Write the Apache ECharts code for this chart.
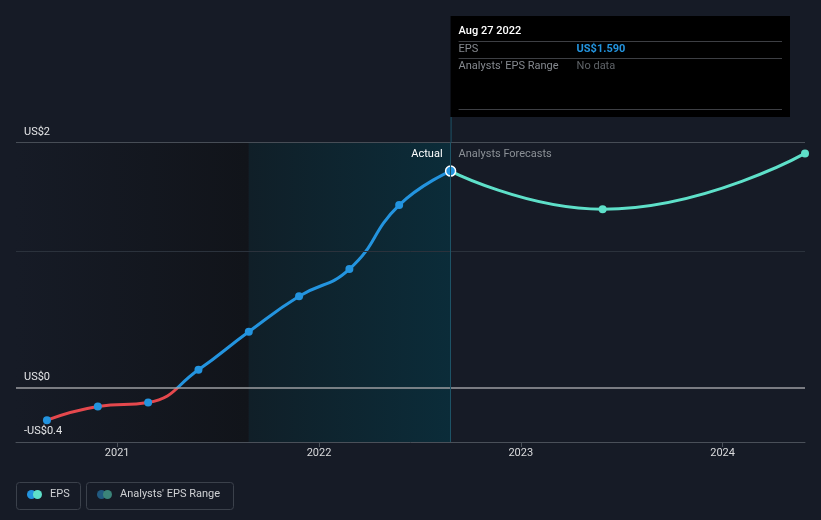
<!DOCTYPE html>
<html><head><meta charset="utf-8">
<script src="https://cdn.jsdelivr.net/npm/echarts@6/dist/echarts.min.js"></script>
<style>html,body{margin:0;padding:0;background:#161b26;}#c{width:821px;height:520px;}</style>
</head><body><div id="c"></div>
<script>
// ---- data ----
const actualDates = ['2020-08-27','2020-11-27','2021-02-26','2021-05-28','2021-08-27','2021-11-26','2022-02-25','2022-05-26','2022-08-27'];
const actualEps = [-0.24, -0.14, -0.11, 0.13, 0.41, 0.67, 0.87, 1.34, 1.59];
const forecastDates = ['2022-08-27','2023-05-29','2024-05-29'];
const forecastEps = [1.59, 1.31, 1.72];
const yearTickDates = ['2021-01-01','2022-01-01','2023-01-01','2024-01-01'];
const yearTickLabels = ['2021','2022','2023','2024'];
const yTickValues = [-0.4, 0, 1.8];
const yTickLabels = ['-US$0.4', 'US$0', 'US$2'];
const gridValues = [1.8, 1];
const axisStartDate = '2020-07-02';
const tooltipDate = 'Aug 27 2022';
const tooltipEps = 'US$1.590';

// ---- helpers ----
const t = d => Date.parse(d + 'T00:00:00Z');
const BLUE = '#2394df', RED = '#e5484d', TEAL = '#5ee0c9';
const FONT = 'Roboto, "Noto Sans", sans-serif';

const lastActualT = t(actualDates[actualDates.length - 1]);
const oneYearBefore = new Date(lastActualT); oneYearBefore.setUTCFullYear(oneYearBefore.getUTCFullYear() - 1);
const actualData = actualDates.map((d, i) => {
  const item = { value: [t(d), actualEps[i]] };
  if (i === actualDates.length - 1) {
    item.symbolSize = 10;
    item.itemStyle = { color: BLUE, borderColor: '#ffffff', borderWidth: 1.5 };
  }
  return item;
});
const forecastData = forecastDates.map((d, i) => [t(d), forecastEps[i]]);
const tickTs = yearTickDates.map(t);

const chart = echarts.init(document.getElementById('c'), null, { renderer: 'canvas' });

const option = {
  backgroundColor: '#161b26',
  animation: false,
  grid: { left: 16, right: 16, top: 142.5, bottom: 78 },
  xAxis: {
    type: 'value',
    min: t(axisStartDate),
    max: t(forecastDates[forecastDates.length - 1]),
    splitLine: { show: false },
    axisLine: { show: true, onZero: false, lineStyle: { color: '#4a5059', width: 1 } },
    axisTick: { show: true, customValues: tickTs, length: 5, lineStyle: { color: '#4a5059' } },
    axisLabel: {
      customValues: tickTs,
      formatter: v => yearTickLabels[tickTs.indexOf(v)] ?? '',
      color: '#d9dadc', fontSize: 11, fontFamily: FONT, margin: 6
    }
  },
  yAxis: {
    type: 'value',
    min: -0.4, max: 1.8,
    splitLine: { show: false },
    axisLine: { show: false },
    axisTick: { show: false },
    axisLabel: { show: false }
  },
  series: [
    {
      name: 'refs', type: 'line', data: [], z: 1, silent: true,
      markArea: {
        silent: true,
        data: [
          [{ xAxis: t(axisStartDate), itemStyle: { color: new echarts.graphic.LinearGradient(0, 0, 1, 0, [{ offset: 0, color: 'rgba(22,27,38,1)' }, { offset: 1, color: 'rgba(17,20,26,1)' }]) } }, { xAxis: oneYearBefore.getTime() }],
          [{ xAxis: oneYearBefore.getTime(), itemStyle: { color: new echarts.graphic.LinearGradient(0, 0, 1, 0, [{ offset: 0, color: 'rgba(16,31,40,1)' }, { offset: 1, color: 'rgba(11,44,57,1)' }]) } }, { xAxis: lastActualT }]
        ]
      },
      markLine: {
        silent: true, symbol: 'none', label: { show: false },
        data: [
          { yAxis: gridValues[0], lineStyle: { color: '#474d56', width: 1, type: 'solid' } },
          { yAxis: gridValues[1], lineStyle: { color: '#2b323c', width: 1, type: 'solid' } },
          { yAxis: 0, lineStyle: { color: '#9c9ea2', width: 1.5, type: 'solid' } },
          { xAxis: lastActualT, lineStyle: { color: '#1d5366', width: 1, type: 'solid' } }
        ]
      }
    },
    {
      name: 'EPS', type: 'line', z: 3, data: actualData,
      smooth: 0.5, symbol: 'circle', symbolSize: 8, showSymbol: true,
      itemStyle: { color: BLUE },
      lineStyle: { width: 3, color: BLUE }
    },
    {
      name: 'Forecast', type: 'line', z: 2, data: forecastData,
      smooth: 0.5, symbol: 'circle', symbolSize: 8,
      itemStyle: { color: TEAL },
      lineStyle: { width: 3, color: TEAL }
    }
  ]
};
chart.setOption(option);

const y0 = chart.convertToPixel({ yAxisIndex: 0 }, 0);
const xA = chart.convertToPixel({ xAxisIndex: 0 }, lastActualT);
const yTop = chart.convertToPixel({ yAxisIndex: 0 }, 1.8);
const xLeft = chart.convertToPixel({ xAxisIndex: 0 }, t(axisStartDate));

const tipL = xA, tipT = 16, tipR = 790, tipB = 117;
const rowX1 = tipL + 8, rowX2 = tipL + 126;
const Z = 50;

const yLabelGraphics = yTickValues.map((v, i) => ({
  type: 'text', z: Z, x: xLeft + 8, y: chart.convertToPixel({ yAxisIndex: 0 }, v) - 5,
  style: { text: yTickLabels[i], fill: '#e4e5e7', font: '11px ' + FONT, align: 'left', verticalAlign: 'bottom' }
}));

chart.setOption({
  series: [{}, {
    lineStyle: {
      color: new echarts.graphic.LinearGradient(0, y0 - 0.5, 0, y0 + 0.5, [
        { offset: 0, color: BLUE }, { offset: 0.5, color: BLUE }, { offset: 0.5, color: RED }, { offset: 1, color: RED }
      ], true)
    }
  }, {}],
  graphic: yLabelGraphics.concat([
    { type: 'line', z: Z, shape: { x1: xA + 0.5, y1: tipB, x2: xA + 0.5, y2: yTop }, style: { stroke: '#1d5366', lineWidth: 1 }, silent: true },
    { type: 'rect', z: Z, shape: { x: tipL, y: tipT, width: tipR - tipL, height: tipB - tipT }, style: { fill: '#000000' }, silent: true },
    { type: 'text', z: Z, x: rowX1, y: 31, style: { text: tooltipDate, fill: '#ffffff', font: '500 11px ' + FONT, verticalAlign: 'middle' } },
    { type: 'line', z: Z, shape: { x1: rowX1, y1: 41.5, x2: tipR - 8, y2: 41.5 }, style: { stroke: '#3d3f44', lineWidth: 1 } },
    { type: 'text', z: Z, x: rowX1, y: 49.5, style: { text: 'EPS', fill: '#85898f', font: '11px ' + FONT, verticalAlign: 'middle' } },
    { type: 'text', z: Z, x: rowX2, y: 49.5, style: { text: tooltipEps, fill: BLUE, font: 'bold 11px ' + FONT, verticalAlign: 'middle' } },
    { type: 'line', z: Z, shape: { x1: rowX1, y1: 58.5, x2: tipR - 8, y2: 58.5 }, style: { stroke: '#3d3f44', lineWidth: 1 } },
    { type: 'text', z: Z, x: rowX1, y: 66.5, style: { text: "Analysts' EPS Range", fill: '#85898f', font: '11px ' + FONT, verticalAlign: 'middle' } },
    { type: 'text', z: Z, x: rowX2, y: 66.5, style: { text: 'No data', fill: '#5f6368', font: '11px ' + FONT, verticalAlign: 'middle' } },
    { type: 'line', z: Z, shape: { x1: rowX1, y1: 109.5, x2: tipR - 8, y2: 109.5 }, style: { stroke: '#3d3f44', lineWidth: 1 } },
    { type: 'text', z: Z, x: xA - 8, y: 154, style: { text: 'Actual', fill: '#ffffff', font: '11px ' + FONT, align: 'right', verticalAlign: 'middle' } },
    { type: 'text', z: Z, x: xA + 8, y: 154, style: { text: 'Analysts Forecasts', fill: '#8b9096', font: '11px ' + FONT, align: 'left', verticalAlign: 'middle' } },
    { type: 'rect', z: Z, shape: { x: 16.5, y: 482.5, width: 64, height: 27, r: 3 }, style: { fill: 'transparent', stroke: '#3b414b', lineWidth: 1 } },
    { type: 'circle', z: Z, shape: { cx: 31.5, cy: 494.5, r: 4.5 }, style: { fill: BLUE } },
    { type: 'circle', z: Z, shape: { cx: 37.5, cy: 494.5, r: 4.5 }, style: { fill: TEAL } },
    { type: 'text', z: Z, x: 50, y: 494.5, style: { text: 'EPS', fill: '#cfd1d4', font: '11px ' + FONT, verticalAlign: 'middle' } },
    { type: 'rect', z: Z, shape: { x: 86.5, y: 482.5, width: 147, height: 27, r: 3 }, style: { fill: 'transparent', stroke: '#3b414b', lineWidth: 1 } },
    { type: 'circle', z: Z, shape: { cx: 101.5, cy: 494.5, r: 4.5 }, style: { fill: '#215a80' } },
    { type: 'circle', z: Z, shape: { cx: 107.5, cy: 494.5, r: 4.5 }, style: { fill: '#3b8479' } },
    { type: 'text', z: Z, x: 120, y: 494.5, style: { text: "Analysts' EPS Range", fill: '#cfd1d4', font: '11px ' + FONT, verticalAlign: 'middle' } }
  ])
});
</script>
</body></html>
